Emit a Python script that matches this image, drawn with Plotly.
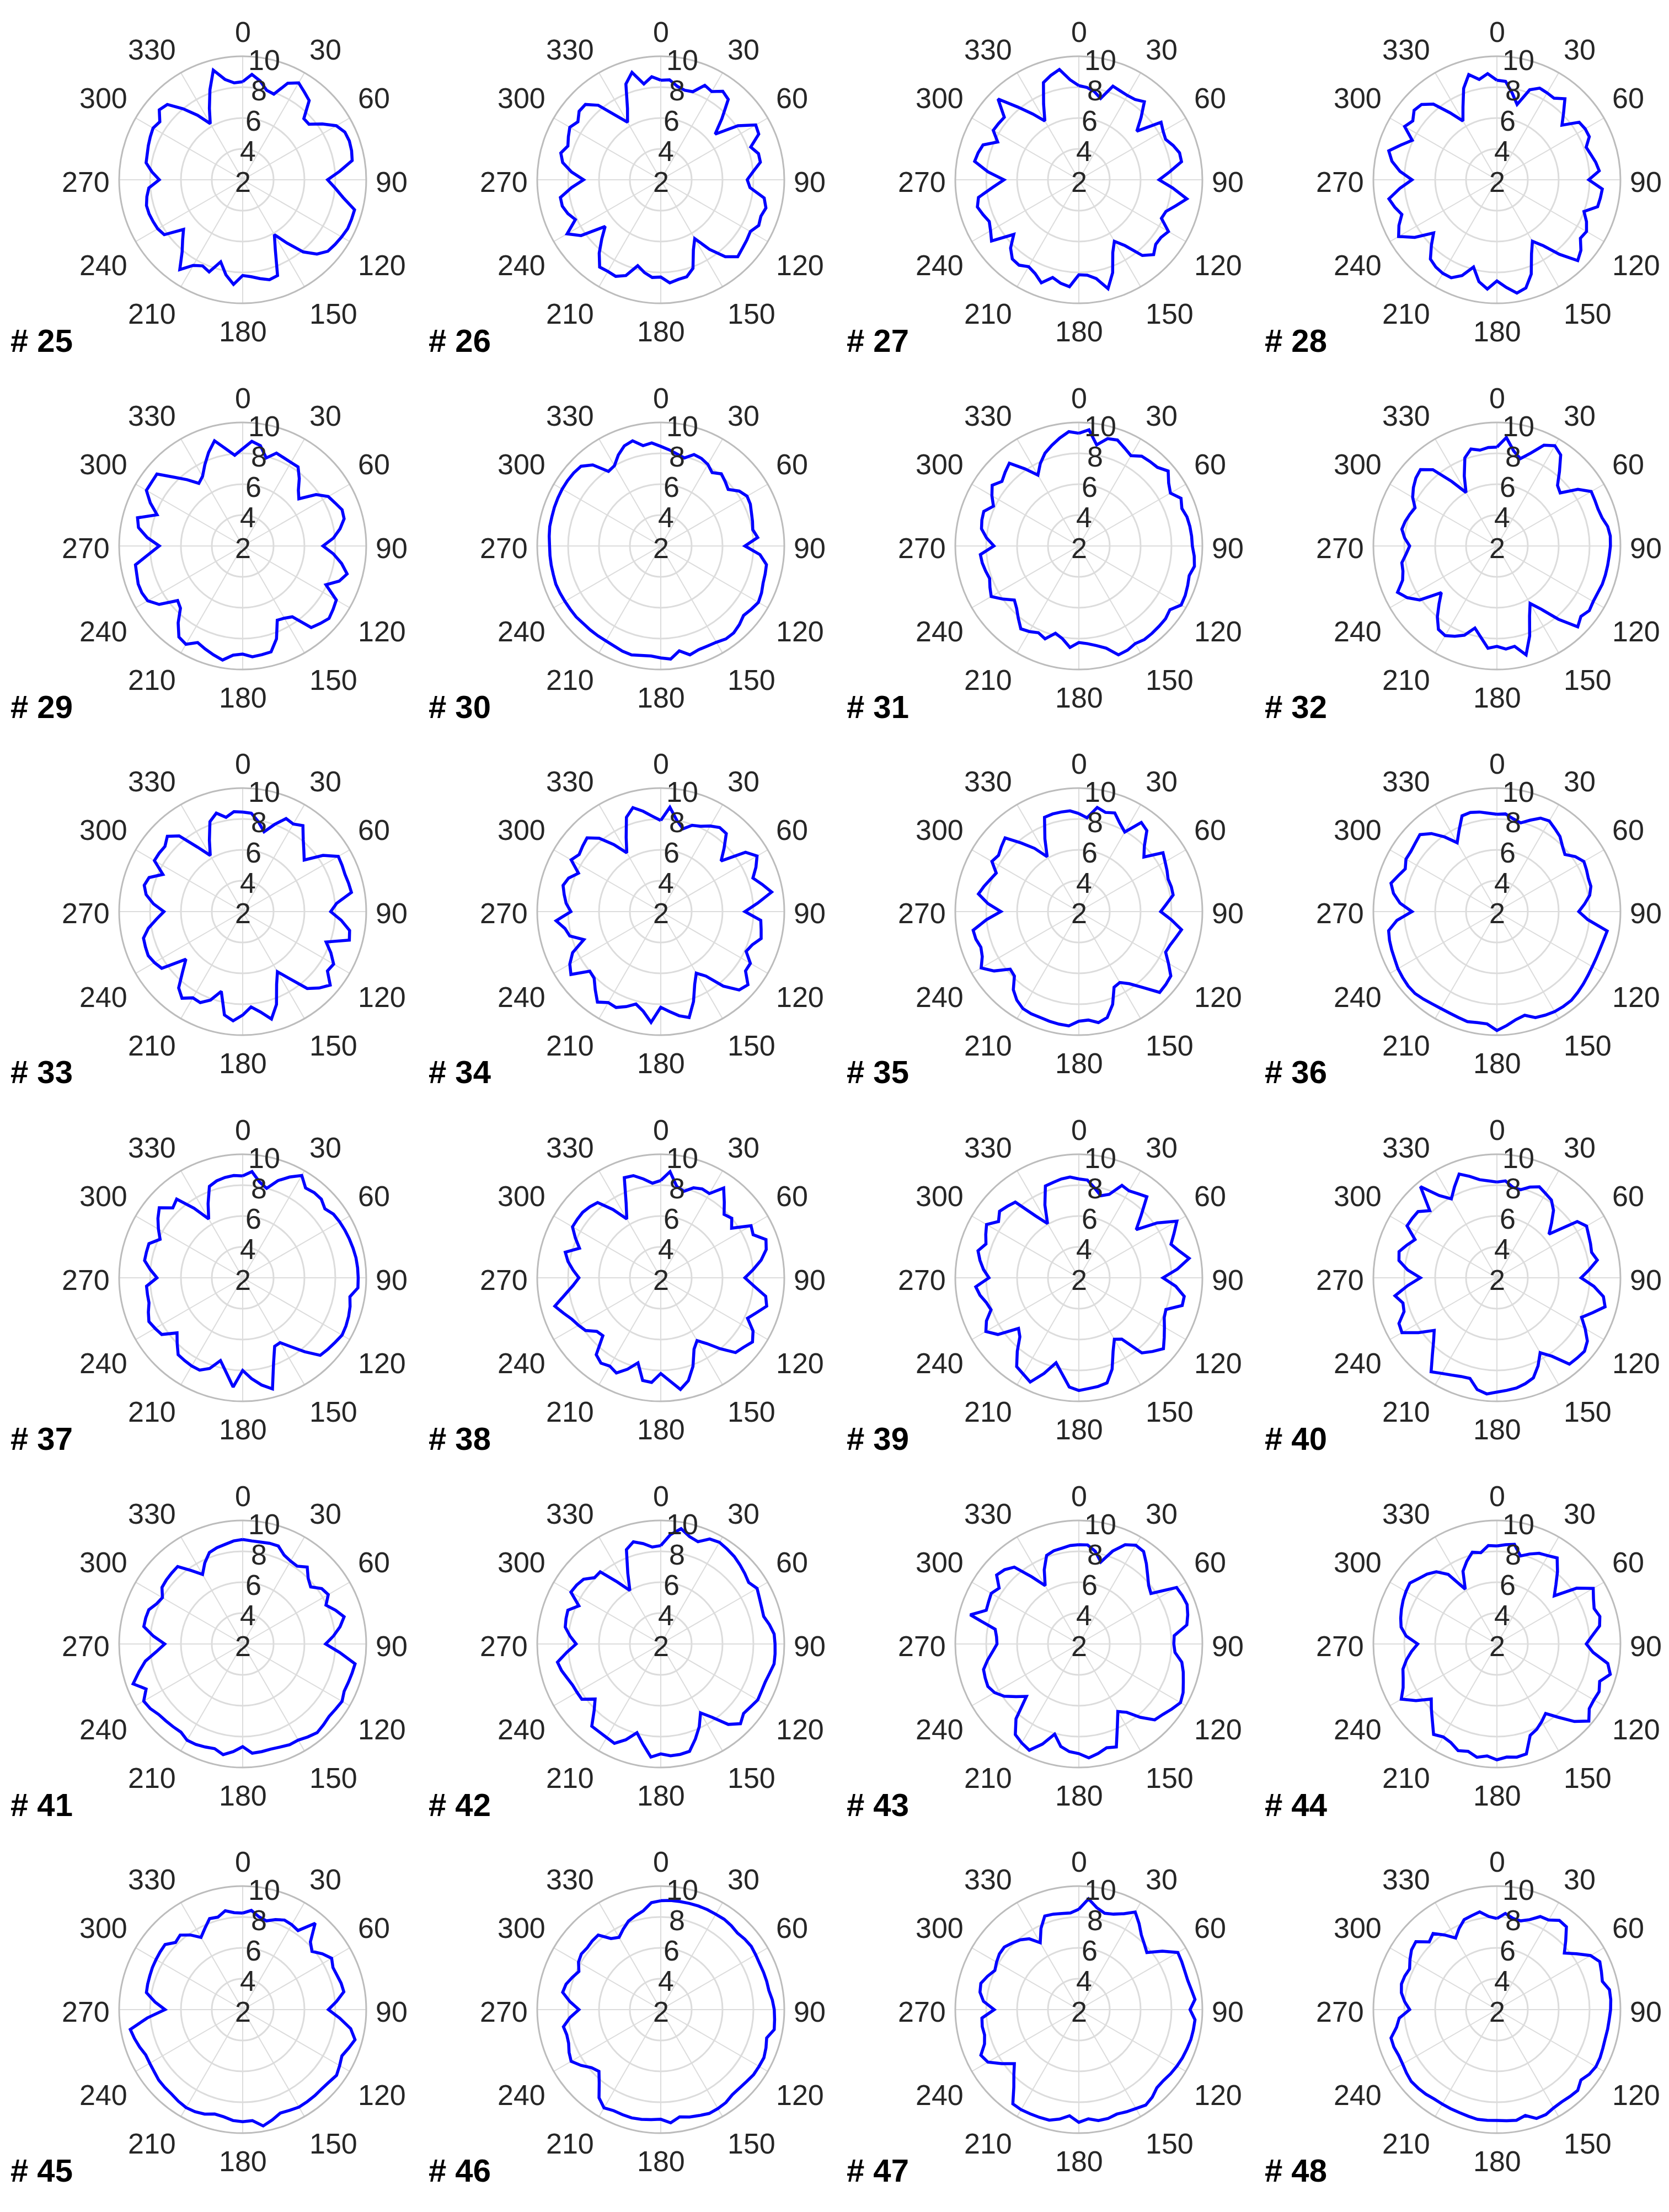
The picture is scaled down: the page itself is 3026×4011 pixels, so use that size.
import math

import plotly.graph_objects as go

# sampling angles (deg, clockwise from north) and tick sets
THETA = list(range(0, 360, 5))
ANGLE_TICKS = [0, 30, 60, 90, 120, 150, 180, 210, 240, 270, 300, 330]
RADIAL_TICKS = [2, 4, 6, 8, 10]
SAMPLE_IDS = list(range(25, 49))

# radius readings, 0..355 deg in 5 deg steps (one line = 60 deg)
r25 = [8.35, 8.85, 8.5, 8.0, 7.9, 8.9, 9.25, 8.95, 8.7, 7.6, 7.6, 8.3,
       9.0, 9.3, 9.35, 9.3, 9.2, 8.3, 7.5, 8.0, 8.6, 9.5, 9.5, 9.5,
       9.4, 9.3, 9.2, 8.8, 8.1, 7.0, 6.1, 7.0, 8.6, 8.7, 8.5, 8.3,
       8.2, 8.8, 8.25, 7.5, 8.35, 8.15, 8.4, 9.1, 8.1, 7.5, 7.0, 8.2,
       8.35, 8.4, 8.45, 8.45, 8.3, 8.1, 7.4, 7.9, 8.35, 8.4, 8.5, 8.6,
       8.7, 8.55, 9.05, 8.9, 8.0, 7.1, 6.2, 7.1, 8.2, 9.35, 8.6, 8.3]
r26 = [8.45, 8.5, 8.15, 8.0, 8.07, 8.75, 8.6, 9.0, 8.8, 7.6, 6.6, 8.1,
       9.1, 9.0, 8.2, 8.55, 8.55, 8.0, 7.6, 7.8, 8.8, 9.05, 8.9, 9.0,
       8.7, 8.8, 8.9, 9.05, 8.5, 7.5, 6.4, 7.0, 8.1, 8.5, 8.55, 8.7,
       8.3, 8.35, 8.1, 7.76, 8.6, 8.9, 8.85, 8.9, 8.2, 7.4, 6.7, 8.3,
       9.0, 8.1, 8.4, 8.6, 8.6, 7.8, 7.0, 7.8, 8.45, 8.7, 8.4, 8.6,
       8.8, 8.55, 8.9, 8.9, 8.3, 7.1, 6.3, 7.1, 8.6, 9.2, 8.3, 8.7]
r27 = [8.1, 8.0, 7.8, 7.45, 8.45, 8.35, 8.3, 8.35, 8.6, 7.7, 6.9, 8.5,
       8.3, 8.2, 8.5, 8.75, 8.75, 7.9, 7.2, 8.1, 9.1, 8.5, 8.0, 7.9,
       8.7, 8.5, 8.5, 8.85, 8.4, 7.2, 6.6, 7.2, 8.4, 9.3, 8.5, 8.2,
       8.15, 8.95, 8.8, 8.55, 9.1, 8.7, 8.5, 8.75, 8.7, 8.25, 7.5, 8.9,
       8.6, 8.4, 8.6, 8.8, 8.6, 7.6, 6.85, 7.9, 8.85, 8.75, 8.6, 7.8,
       8.4, 8.35, 8.3, 9.4, 8.15, 7.2, 6.4, 7.4, 8.7, 9.0, 9.25, 8.5]
r28 = [8.45, 8.4, 7.7, 7.05, 8.2, 8.55, 8.5, 8.45, 8.85, 8.1, 7.5, 8.5,
       8.6, 8.6, 8.15, 8.3, 8.5, 8.65, 7.95, 8.85, 8.8, 8.75, 8.0, 8.4,
       8.7, 8.6, 9.1, 9.4, 8.3, 7.2, 6.6, 7.3, 8.5, 9.25, 9.45, 9.0,
       8.55, 9.1, 8.7, 7.85, 8.6, 9.0, 9.0, 8.9, 8.7, 8.0, 7.35, 8.5,
       9.35, 9.0, 8.55, 8.85, 9.1, 8.3, 7.5, 8.3, 8.9, 9.25, 8.6, 8.05,
       8.9, 8.65, 9.0, 8.9, 8.4, 7.3, 6.4, 7.2, 8.3, 9.05, 8.6, 8.9]
r29 = [8.3, 8.8, 8.6, 7.9, 8.4, 8.3, 8.25, 8.25, 7.7, 7.1, 6.75, 7.8,
       8.4, 8.6, 8.85, 8.8, 8.4, 7.9, 7.2, 7.9, 8.5, 9.0, 8.65, 7.95,
       9.0, 9.15, 9.3, 9.1, 8.9, 7.6, 7.4, 7.3, 8.4, 9.1, 9.15, 9.2,
       9.0, 9.1, 9.5, 9.3, 9.1, 8.9, 9.35, 9.2, 8.5, 7.7, 7.5, 8.6,
       9.1, 9.2, 9.2, 9.1, 9.05, 8.1, 7.4, 8.2, 8.85, 9.05, 7.9, 8.6,
       9.2, 9.2, 9.25, 8.3, 7.6, 6.95, 7.2, 7.8, 8.45, 9.05, 8.4, 7.9]
r30 = [8.45, 8.25, 8.05, 7.9, 8.3, 8.25, 8.1, 7.8, 8.1, 7.9, 7.7, 8.2,
       8.45, 8.4, 8.25, 8.15, 8.05, 8.3, 7.45, 8.45, 8.95, 9.0, 9.05, 9.2,
       9.3, 9.15, 9.0, 9.2, 9.35, 9.35, 9.2, 9.15, 9.15, 9.3, 8.9, 9.35,
       9.25, 9.15, 9.2, 9.3, 9.25, 9.15, 9.1, 9.1, 9.1, 9.1, 9.15, 9.15,
       9.17, 9.2, 9.23, 9.2, 9.2, 9.2, 9.2, 9.25, 9.3, 9.3, 9.33, 9.35,
       9.37, 9.37, 9.36, 9.3, 8.85, 7.9, 8.0, 8.5, 8.9, 9.05, 8.6, 8.7]
r31 = [9.3, 9.55, 8.65, 9.2, 9.3, 9.0, 8.75, 9.1, 9.15, 9.2, 9.55, 9.1,
       8.85, 9.3, 9.1, 9.25, 9.3, 9.33, 9.35, 9.5, 9.6, 9.4, 9.5, 9.6,
       9.65, 9.2, 9.33, 9.35, 9.38, 9.4, 9.3, 9.45, 9.5, 8.85, 8.55, 8.35,
       8.25, 8.6, 8.1, 7.85, 8.4, 8.2, 8.4, 8.55, 8.1, 7.7, 7.45, 8.0,
       8.55, 8.35, 8.15, 8.25, 8.35, 8.4, 7.5, 8.0, 8.4, 8.5, 8.55, 8.1,
       8.5, 8.85, 8.5, 8.75, 9.0, 8.1, 7.3, 7.9, 8.4, 8.75, 9.1, 9.43]
r32 = [8.4, 9.05, 8.25, 7.85, 8.4, 9.2, 9.5, 9.2, 8.3, 7.55, 7.35, 8.4,
       9.05, 9.0, 8.97, 9.05, 9.28, 9.37, 9.35, 9.3, 9.28, 9.27, 9.26, 9.2,
       9.2, 9.3, 9.1, 9.4, 8.2, 7.0, 6.3, 7.0, 8.2, 9.3, 8.6, 8.7,
       8.5, 8.65, 8.0, 7.5, 8.15, 8.45, 8.7, 8.6, 8.0, 7.3, 6.7, 8.1,
       8.7, 9.1, 8.5, 8.3, 8.25, 7.9, 7.65, 8.0, 8.25, 8.15, 8.0, 7.85,
       8.3, 8.6, 8.85, 9.0, 8.45, 7.1, 6.0, 7.0, 8.07, 8.5, 8.3, 8.4]
r33 = [8.45, 8.4, 7.9, 7.35, 8.0, 8.65, 8.55, 8.8, 8.1, 7.6, 7.2, 8.35,
       9.15, 9.1, 9.05, 9.1, 9.15, 8.1, 7.7, 8.4, 9.03, 9.15, 7.75, 8.3,
       8.8, 8.7, 9.4, 9.0, 8.5, 7.3, 6.5, 7.2, 8.4, 9.2, 8.6, 8.2,
       8.7, 9.1, 8.8, 7.35, 8.1, 8.5, 8.45, 8.85, 8.45, 7.5, 6.8, 8.4,
       8.6, 8.75, 8.7, 8.65, 8.2, 7.6, 7.1, 7.8, 8.35, 8.6, 8.45, 7.7,
       8.6, 8.6, 8.57, 8.9, 8.4, 7.1, 6.2, 7.1, 8.2, 8.6, 8.2, 8.5]
r34 = [7.9, 8.78, 8.0, 7.55, 7.95, 8.1, 8.4, 8.65, 8.6, 7.8, 7.1, 8.7,
       9.2, 8.8, 8.35, 8.8, 9.29, 8.3, 7.45, 8.5, 8.6, 8.73, 8.3, 8.1,
       8.7, 8.7, 9.37, 9.18, 8.3, 7.1, 6.6, 7.2, 8.2, 9.1, 8.85, 8.5,
       8.2, 9.2, 8.55, 8.2, 8.55, 8.85, 8.8, 9.15, 8.6, 8.1, 8.0, 9.1,
       8.8, 8.3, 7.3, 8.1, 8.3, 8.8, 7.82, 8.15, 8.35, 8.55, 8.35, 7.88,
       8.7, 8.45, 8.6, 8.75, 8.2, 7.3, 6.4, 7.3, 8.5, 8.97, 8.6, 8.2]
r35 = [8.35, 8.1, 8.85, 8.65, 8.8, 8.3, 7.95, 9.05, 8.85, 8.0, 7.5, 8.65,
       8.45, 8.3, 8.15, 8.2, 8.2, 7.7, 7.3, 8.0, 8.75, 8.5, 8.3, 8.2,
       8.7, 9.27, 9.35, 9.4, 8.4, 7.7, 7.3, 7.4, 8.4, 9.1, 9.3, 9.05,
       9.1, 9.43, 9.4, 9.35, 9.3, 9.3, 9.25, 9.0, 8.6, 7.9, 7.8, 8.7,
       9.3, 8.9, 8.75, 8.9, 8.95, 8.0, 7.05, 7.9, 8.6, 8.35, 8.1, 7.9,
       8.5, 8.35, 8.55, 8.75, 7.8, 7.0, 6.1, 7.2, 8.5, 8.55, 8.55, 8.55]
r36 = [8.3, 8.35, 8.1, 7.95, 8.3, 8.68, 8.78, 8.55, 8.35, 8.0, 7.75, 8.2,
       8.5, 8.4, 8.3, 8.3, 8.1, 7.7, 7.3, 7.9, 9.25, 9.15, 9.1, 9.1,
       9.13, 9.2, 9.3, 9.4, 9.5, 9.5, 9.48, 9.4, 9.3, 8.95, 9.1, 9.4,
       9.7, 9.3, 9.3, 9.38, 9.3, 9.25, 9.25, 9.3, 9.4, 9.5, 9.5, 9.45,
       9.4, 9.3, 9.25, 9.2, 9.12, 8.5, 7.5, 8.3, 8.8, 9.1, 8.8, 8.55,
       8.8, 8.8, 8.9, 9.05, 8.6, 7.9, 7.15, 7.8, 8.6, 8.65, 8.55, 8.4]
r37 = [8.6, 8.9, 8.3, 8.0, 8.7, 9.2, 9.65, 9.1, 9.2, 9.2, 8.95, 9.18,
       9.25, 9.3, 9.35, 9.4, 9.45, 9.47, 9.48, 9.49, 9.05, 9.2, 9.3, 9.38,
       9.43, 9.3, 9.2, 9.1, 8.25, 7.45, 6.85, 6.9, 7.85, 9.45, 9.05, 8.55,
       8.0, 9.1, 8.2, 7.55, 8.25, 8.6, 8.6, 8.55, 8.5, 8.0, 7.55, 8.4,
       8.55, 8.7, 8.5, 8.28, 8.26, 8.25, 7.55, 8.0, 8.45, 8.45, 8.46, 7.9,
       8.3, 8.7, 9.05, 8.4, 8.65, 7.5, 6.4, 7.3, 8.3, 8.5, 8.6, 8.65]
r38 = [8.3, 8.9, 8.0, 7.8, 8.2, 8.35, 8.3, 9.1, 8.4, 7.8, 8.0, 7.6,
       8.75, 8.6, 9.25, 9.07, 8.6, 8.0, 7.45, 8.05, 8.9, 9.1, 8.6, 8.2,
       8.9, 9.25, 9.0, 8.85, 8.0, 7.2, 6.7, 7.1, 8.1, 8.9, 9.34, 8.7,
       8.2, 8.8, 8.75, 7.7, 8.3, 8.8, 8.6, 8.75, 8.5, 7.3, 7.4, 7.95,
       8.15, 8.35, 8.7, 9.1, 8.3, 7.7, 7.3, 7.7, 8.1, 8.4, 7.6, 8.1,
       8.6, 8.6, 8.6, 8.5, 8.36, 7.4, 6.4, 7.3, 8.9, 8.85, 8.5, 8.15]
r39 = [8.4, 8.35, 7.9, 7.5, 7.75, 8.6, 8.5, 8.65, 8.85, 7.7, 6.85, 8.2,
       9.33, 8.8, 8.35, 8.72, 9.25, 8.4, 7.45, 8.3, 8.93, 8.93, 8.0, 8.1,
       8.4, 8.75, 9.15, 8.75, 8.35, 6.85, 6.6, 7.25, 8.3, 9.05, 9.15, 9.2,
       9.3, 9.1, 8.3, 7.7, 8.6, 9.45, 9.2, 9.02, 8.2, 7.4, 7.1, 8.4,
       8.95, 8.6, 8.05, 8.2, 8.5, 8.7, 7.82, 8.2, 8.5, 8.76, 8.4, 8.65,
       8.9, 8.35, 8.7, 8.55, 8.4, 6.9, 6.05, 7.2, 8.33, 8.4, 8.5, 8.55]
r40 = [8.2, 8.3, 7.95, 7.9, 8.25, 8.5, 8.3, 8.15, 7.7, 7.0, 6.4, 8.35,
       8.7, 8.55, 8.45, 8.35, 8.6, 8.0, 7.45, 8.3, 9.0, 9.25, 8.6, 8.05,
       8.6, 9.15, 9.4, 9.35, 9.3, 8.2, 7.6, 8.3, 8.9, 9.1, 9.25, 9.32,
       9.4, 9.55, 9.35, 8.75, 8.8, 8.95, 9.15, 9.43, 8.5, 7.8, 7.3, 8.2,
       9.1, 9.0, 8.4, 8.3, 8.7, 7.8, 6.96, 7.8, 8.44, 8.56, 8.2, 7.85,
       8.72, 8.7, 8.67, 8.15, 9.7, 8.5, 7.9, 8.5, 9.15, 8.8, 8.45, 8.3]
r41 = [8.77, 8.7, 8.7, 8.75, 8.75, 8.35, 8.2, 8.15, 8.5, 8.0, 7.75, 8.25,
       8.4, 7.95, 8.4, 8.8, 8.4, 7.9, 7.37, 8.3, 9.39, 9.33, 9.28, 9.25,
       9.43, 9.35, 9.3, 9.4, 9.5, 9.35, 9.19, 9.2, 9.1, 9.05, 9.08, 9.1,
       8.65, 9.0, 9.28, 9.02, 9.1, 9.18, 9.2, 8.97, 9.0, 9.04, 9.1, 9.3,
       9.4, 8.9, 9.55, 8.95, 8.4, 7.6, 7.05, 7.8, 8.5, 8.5, 8.47, 8.15,
       8.0, 8.38, 8.45, 8.5, 8.55, 7.8, 7.2, 7.8, 8.3, 8.45, 8.55, 8.7]
r42 = [8.37, 9.1, 9.58, 9.2, 9.05, 9.5, 9.6, 9.5, 9.4, 9.25, 9.1, 8.95,
       9.2, 9.05, 8.95, 8.9, 9.15, 9.37, 9.4, 9.43, 9.45, 9.3, 9.2, 9.2,
       9.25, 9.1, 9.0, 9.3, 8.8, 7.8, 7.15, 7.9, 8.55, 9.2, 9.26, 9.27,
       9.12, 9.35, 8.6, 7.95, 8.6, 9.1, 9.0, 8.95, 8.95, 8.1, 7.55, 8.24,
       8.26, 8.3, 8.45, 8.65, 8.79, 8.1, 7.48, 7.9, 8.28, 8.35, 8.4, 7.85,
       8.72, 8.65, 8.52, 8.07, 8.1, 6.9, 6.0, 7.05, 8.5, 8.85, 8.6, 8.3]
r43 = [8.43, 8.44, 8.1, 7.5, 8.4, 9.09, 9.38, 9.31, 8.8, 8.3, 7.9, 7.7,
       9.31, 9.4, 9.46, 9.3, 9.1, 8.2, 8.15, 8.25, 8.77, 9.0, 9.2, 9.45,
       9.6, 9.35, 9.1, 8.95, 8.2, 7.4, 7.05, 7.9, 9.1, 8.96, 9.2, 9.4,
       9.1, 9.0, 8.74, 8.05, 8.9, 9.59, 9.4, 9.17, 8.33, 6.8, 7.3, 7.9,
       8.3, 8.5, 8.45, 8.39, 8.0, 7.6, 7.3, 7.35, 7.5, 9.28, 8.38, 8.45,
       8.55, 8.3, 8.95, 8.8, 8.5, 7.3, 6.36, 7.3, 8.1, 8.25, 8.3, 8.4]
r44 = [8.35, 8.45, 8.55, 7.9, 8.2, 8.48, 8.6, 8.8, 8.1, 7.4, 6.85, 8.3,
       9.2, 8.9, 8.7, 8.9, 8.75, 8.2, 7.79, 8.25, 9.29, 9.6, 9.08, 9.3,
       9.25, 9.3, 9.77, 9.1, 8.2, 7.5, 7.8, 8.1, 8.3, 9.37, 9.44, 9.35,
       9.5, 9.28, 9.45, 9.2, 9.35, 9.05, 8.95, 9.15, 8.5, 8.0, 7.55, 8.4,
       9.15, 8.7, 8.46, 8.3, 7.95, 7.55, 7.13, 7.9, 8.3, 8.45, 8.58, 8.7,
       8.8, 8.88, 8.6, 8.4, 8.1, 7.5, 6.1, 7.2, 7.7, 8.15, 8.0, 8.4]
r45 = [8.25, 8.45, 8.1, 7.95, 8.2, 8.4, 8.35, 8.25, 9.3, 8.2, 7.86, 8.3,
       8.65, 8.45, 8.5, 8.6, 8.65, 8.1, 7.55, 8.3, 9.1, 9.53, 9.3, 9.09,
       9.25, 9.42, 9.3, 9.25, 9.27, 9.28, 9.29, 9.2, 9.13, 9.4, 9.65, 9.22,
       9.26, 9.21, 9.05, 9.0, 9.2, 9.3, 9.33, 9.25, 9.15, 9.13, 9.1, 9.0,
       8.95, 8.93, 9.1, 9.25, 9.39, 8.2, 7.03, 7.7, 8.33, 8.37, 8.4, 8.45,
       8.48, 8.52, 8.56, 8.15, 8.3, 7.9, 7.4, 7.8, 8.27, 8.2, 8.5, 8.3]
r46 = [9.05, 9.1, 9.11, 9.12, 9.14, 9.14, 9.13, 9.15, 9.1, 9.02, 9.1, 9.15,
       9.1, 9.06, 9.08, 9.1, 9.11, 9.25, 9.35, 9.4, 9.46, 9.1, 9.25, 9.37,
       9.35, 9.34, 9.25, 9.2, 9.2, 9.35, 9.4, 9.42, 9.3, 9.2, 9.05, 9.36,
       9.1, 9.15, 9.22, 9.26, 9.24, 9.22, 9.35, 8.97, 8.2, 7.66, 7.85, 8.3,
       8.7, 8.55, 8.35, 8.3, 8.4, 7.9, 7.3, 7.9, 8.45, 8.35, 8.1, 7.85,
       8.15, 8.28, 8.22, 8.28, 8.3, 7.62, 7.4, 7.75, 8.1, 8.3, 8.5, 8.95]
r47 = [8.5, 9.2, 8.7, 8.46, 8.58, 8.85, 9.3, 8.8, 8.3, 8.0, 7.75, 8.6,
       9.4, 9.35, 9.3, 9.3, 9.4, 9.55, 9.2, 9.55, 9.53, 9.51, 9.45, 9.4,
       9.33, 9.25, 9.15, 9.15, 9.4, 9.55, 9.4, 9.3, 9.2, 9.3, 9.3, 9.1,
       9.3, 8.9, 9.2, 9.41, 9.43, 9.45, 9.48, 9.45, 8.55, 7.95, 7.45, 8.1,
       8.8, 9.0, 8.5, 8.32, 8.35, 8.3, 7.48, 8.2, 8.5, 8.57, 8.3, 8.0,
       8.15, 8.28, 8.3, 8.1, 7.9, 7.6, 7.0, 7.8, 8.45, 8.4, 8.32, 8.28]
r48 = [7.9, 8.25, 8.0, 7.95, 8.2, 8.65, 8.7, 9.05, 9.0, 8.3, 7.7, 8.3,
       9.0, 9.35, 9.2, 9.07, 9.4, 9.4, 9.36, 9.3, 9.28, 9.26, 9.3, 9.37,
       9.4, 9.3, 9.1, 9.4, 9.35, 9.3, 9.35, 9.5, 9.5, 9.1, 9.28, 9.22,
       9.18, 9.2, 9.22, 9.15, 9.1, 9.08, 9.07, 9.07, 9.15, 9.2, 9.24, 9.15,
       9.05, 9.02, 9.1, 9.1, 8.6, 8.35, 7.65, 8.0, 8.28, 8.4, 8.35, 8.24,
       8.5, 8.75, 8.85, 8.2, 8.43, 7.9, 7.35, 7.8, 8.2, 8.3, 8.43, 8.05]

PROFILES = [r25, r26, r27, r28, r29, r30, r31, r32, r33, r34, r35, r36,
            r37, r38, r39, r40, r41, r42, r43, r44, r45, r46, r47, r48]

W, H = 3026, 4011
COL_X = [432, 1190, 1948, 2706]
ROW_Y = [318, 982, 1645, 2309, 2973, 3636]
RAD = 224            # pixel radius of the r=10 circle
R_MIN, R_MAX = 2, 10
LABEL_RAD = 240      # where angular labels are anchored
RLABEL_DIR = 10      # radial tick labels sit along this bearing
FONT = "Liberation Sans, Arial, sans-serif"
TICK_FONT = dict(family=FONT, size=52, color="#262626")
GRID = "#dcdcdc"

fig = go.Figure()
annotations = []
layout = dict(width=W, height=H, margin=dict(l=0, r=0, t=0, b=0),
              paper_bgcolor="white", showlegend=False)


def add_label(text, px, py, xanchor):
    annotations.append(dict(
        text=text, xref="paper", yref="paper", x=px / W, y=1 - py / H,
        xanchor=xanchor, yanchor="middle", showarrow=False, borderpad=0,
        font=TICK_FONT))


for i, (sid, vals) in enumerate(zip(SAMPLE_IDS, PROFILES)):
    cx, cy = COL_X[i % 4], ROW_Y[i // 4]
    name = "polar" if i == 0 else f"polar{i + 1}"
    fig.add_trace(go.Scatterpolar(
        r=vals + vals[:1], theta=THETA + [360], mode="lines",
        line=dict(color="#0000ff", width=5.5),
        subplot=name, hoverinfo="skip"))
    layout[name] = dict(
        domain=dict(x=[(cx - RAD) / W, (cx + RAD) / W],
                    y=[1 - (cy + RAD) / H, 1 - (cy - RAD) / H]),
        bgcolor="white",
        angularaxis=dict(
            rotation=90, direction="clockwise",
            tickmode="array", tickvals=ANGLE_TICKS,
            showgrid=True, gridcolor=GRID, gridwidth=2,
            showline=True, linecolor="#bcbcbc", linewidth=3,
            ticks="", showticklabels=False),
        radialaxis=dict(
            range=[R_MIN, R_MAX], tickmode="array", tickvals=RADIAL_TICKS,
            angle=90, showgrid=True, gridcolor=GRID, gridwidth=3,
            showline=False, ticks="", showticklabels=False))

    # angular tick labels, placed outside the rim (MATLAB style)
    for a in ANGLE_TICKS:
        s, c = math.sin(math.radians(a)), math.cos(math.radians(a))
        ax, ay = LABEL_RAD * s, -LABEL_RAD * c
        if c > 0.01:
            ay -= 28
        elif c < -0.01:
            ay += 35
        else:
            ay += 3.5
        anchor = "left" if s > 0.01 else ("right" if s < -0.01 else "center")
        add_label(str(a), cx + ax, cy + ay, anchor)

    # radial tick labels along a ray just right of north
    for v in RADIAL_TICKS:
        rr = (v - R_MIN) / (R_MAX - R_MIN) * RAD
        d = math.radians(RLABEL_DIR)
        add_label(str(v), cx + rr * math.sin(d), cy - rr * math.cos(d) + 3.5,
                  "center")

    annotations.append(dict(
        text=f"<b># {sid}</b>", xref="paper", yref="paper",
        x=(cx - 422) / W, y=1 - (cy + 291) / H,
        xanchor="left", yanchor="middle", showarrow=False, borderpad=0,
        font=dict(family=FONT, size=58, color="black")))

layout["annotations"] = annotations
fig.update_layout(**layout)
fig.write_html("out.html")
